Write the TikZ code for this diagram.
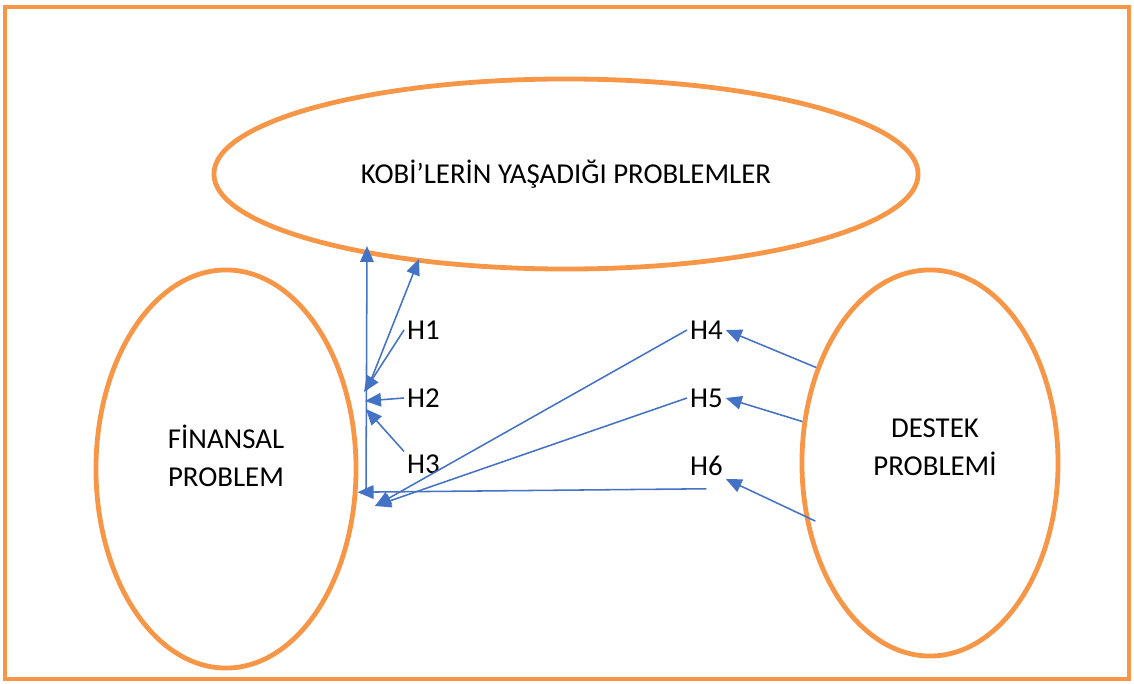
\documentclass[tikz,border=0pt]{standalone}
\usepackage{fontspec}
\setmainfont{Carlito}
\usetikzlibrary{shapes.geometric, arrows.meta}
\definecolor{frameorange}{RGB}{247,150,70}
\definecolor{linkblue}{RGB}{68,114,196}

\begin{document}
\begin{tikzpicture}[x=0.025cm, y=-0.025cm,
        problem/.style={ellipse, draw=frameorange, line width=1.2mm, inner sep=0pt},
        caption/.style={align=center, font=\fontsize{20.5}{27}\selectfont},
        hyp/.style={inner sep=2pt, font=\fontsize{20.5}{24}\selectfont},
        arrow/.style={-{Triangle[length=4mm,width=3.4mm]}, draw=linkblue, fill=linkblue, line width=1.1pt}
    ]
        \useasboundingbox (0,0) rectangle (1134,684);
        \draw[frameorange, line width=1mm] (5,7) rectangle (1129,679);

        \node[problem, minimum width=17.6cm, minimum height=4.75cm, caption] (kobi) at (566,174) {KOBİ’LERİN YAŞADIĞI PROBLEMLER};
        \node[problem, minimum width=6.5cm, minimum height=9.95cm] (fin) at (226,469) {};
        \node[caption] (fintext) at (226,456) {FİNANSAL\\PROBLEM};
        \node[problem, minimum width=6.4cm, minimum height=9.65cm] (destek) at (930,463) {};
        \node[caption] (destektext) at (935,447) {DESTEK\\PROBLEMİ};

        \node[hyp, anchor=west] (h1) at (404,330) {H1};
        \node[hyp, anchor=west] (h2) at (404,398) {H2};
        \node[hyp, anchor=west] (h3) at (404,464) {H3};
        \node[hyp, anchor=west] (h4) at (687,330) {H4};
        \node[hyp, anchor=west] (h5) at (687,398) {H5};
        \node[hyp, anchor=west] (h6) at (687,466) {H6};

        \coordinate (j1) at (364,392);
        \coordinate (j2) at (365,401);
        \coordinate (j3) at (366,409);
        \coordinate (j4) at (367,390);
        \coordinate (foot) at (366,493);
        \coordinate (hub) at (375,506);
        \coordinate (k1) at (367,246);
        \coordinate (k2) at (419,259);

        \draw[arrow] (h1.west) -- (j1);
        \draw[arrow] (h2.west) -- (j2);
        \draw[arrow] (h3.north west) -- (j3);
        \draw[arrow] (foot) -- (k1);
        \draw[arrow] (j4) -- (k2);
        \draw[arrow] (h4.west) -- (hub);
        \draw[arrow] (h5.west) -- (hub);
        \draw[arrow] ([yshift=-7pt]h6.south) -- (fin.-10);
        \draw[arrow] (destek.140) -- (h4.east);
        \draw[arrow] (destek.162) -- (h5.east);
        \draw[arrow] ([xshift=7pt]destek.205) -- (h6.south east);
    \end{tikzpicture}
\end{document}
